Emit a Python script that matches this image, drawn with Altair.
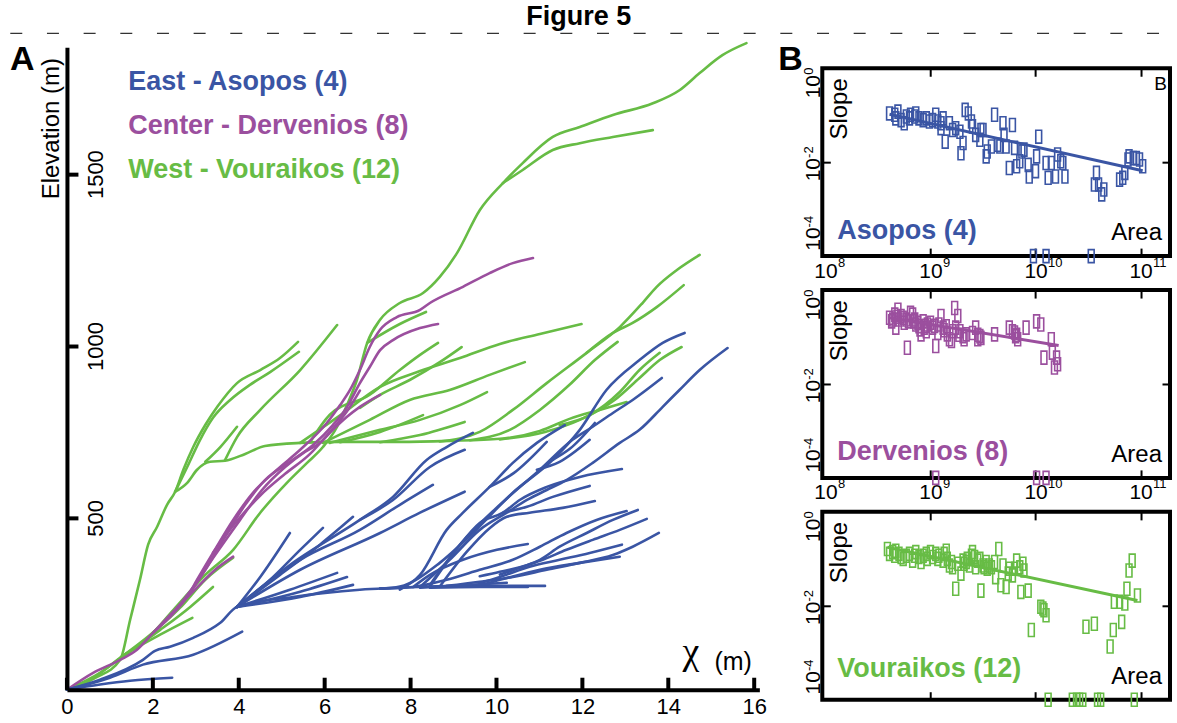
import altair as alt
import pandas as pd

FONT = "Liberation Sans"

# ---------------------------------------------------------------------------
# Panel A: chi - elevation river profiles, one list of (chi, elevation) per channel
# ---------------------------------------------------------------------------
asopos_profiles = [
    [(0, 0), (0.77, 15), (1.47, 26), (2.45, 35)],
    [(0, 0), (0.77, 29), (1.77, 87), (2.05, 113), (2.40, 125), (2.94, 151), (3.57, 195), (3.96, 241),
     (5.26, 270), (6.82, 291), (8.22, 299), (9.61, 302), (11.13, 302)],
    [(0, 0), (1.0, 35), (1.77, 73), (2.94, 102), (4.08, 169)],
    [(3.96, 241), (4.50, 328), (5.19, 456)],
    [(3.96, 241), (4.73, 320), (5.43, 407), (5.96, 471)],
    [(3.96, 241), (4.96, 334), (5.89, 422), (6.66, 503)],
    [(3.96, 241), (5.19, 363), (6.82, 494), (7.59, 561), (8.38, 669), (8.84, 706), (9.45, 747)],
    [(6.82, 494), (7.59, 552), (8.45, 648), (9.26, 698)],
    [(3.96, 241), (5.43, 378), (6.82, 465), (7.75, 538), (8.52, 596)],
    [(3.96, 241), (5.43, 349), (7.29, 456), (8.22, 515), (9.26, 576)],
    [(3.96, 241), (5.19, 291), (6.29, 340)],
    [(3.96, 241), (5.43, 285), (6.52, 328)],
    [(3.96, 241), (5.43, 270), (6.66, 305)],
    [(7.29, 294), (7.75, 300), (8.68, 369), (9.45, 456), (10.38, 573), (11.31, 669), (11.94, 756),
     (12.56, 872), (13.33, 959), (13.87, 1009), (14.38, 1038)],
    [(8.22, 299), (8.91, 378), (9.61, 465), (10.24, 515), (10.71, 552), (11.17, 581), (11.63, 610),
     (12.24, 660), (12.87, 718), (13.33, 756), (13.87, 823), (14.26, 872), (14.73, 930), (15.38, 994)],
    [(8.45, 305), (9.15, 422), (10.08, 538), (11.01, 640), (11.77, 727), (12.24, 765), (12.71, 805),
     (13.17, 843), (13.85, 907)],
    [(7.75, 291), (8.22, 334), (8.84, 465), (9.22, 515), (9.84, 590), (10.38, 660), (10.94, 718),
     (11.59, 770)],
    [(11.31, 669), (11.70, 700), (12.29, 776)],
    [(10.94, 640), (11.47, 663), (12.17, 727)],
    [(9.84, 590), (10.40, 630), (11.17, 721)],
    [(8.45, 300), (9.08, 410), (9.61, 485), (10.15, 515), (10.54, 552), (11.17, 590), (11.94, 619),
     (12.92, 642)],
    [(10.15, 515), (10.71, 532), (11.31, 561), (12.17, 593)],
    [(8.68, 300), (9.30, 400), (9.84, 470), (10.24, 503), (10.77, 515), (11.54, 529), (12.29, 549)],
    [(7.29, 294), (8.06, 299), (8.84, 320), (9.61, 349), (10.38, 378), (11.01, 416), (11.63, 456),
     (12.33, 494), (13.03, 520)],
    [(9.61, 330), (10.08, 343), (11.01, 378), (11.47, 416), (12.10, 456), (12.71, 494), (13.29, 523)],
    [(10.08, 335), (10.54, 355), (11.01, 375), (11.63, 407), (12.24, 436), (12.87, 465), (13.50, 497)],
    [(8.84, 302), (9.61, 314), (10.38, 328), (11.17, 349), (11.94, 369), (12.71, 392), (13.17, 416),
     (13.78, 456)],
    [(9.61, 310), (10.08, 328), (10.77, 358), (11.47, 378), (12.17, 398), (12.92, 422)],
    [(9.22, 302), (9.61, 305), (10.08, 320), (11.01, 349), (11.94, 369), (12.87, 387)],
    [(8.06, 299), (8.45, 334), (9.22, 378), (10.01, 407), (10.73, 424)],
    [(8.22, 297), (10.24, 311)],
    [(8.45, 297), (9.61, 299), (10.73, 299)],
]

dervenios_profiles = [
    [(0, 0), (0.61, 49), (1.24, 87), (1.63, 116), (2.01, 166), (2.40, 212), (2.80, 270), (3.03, 320),
     (3.40, 398), (3.87, 494), (4.33, 573), (4.89, 640), (5.43, 698), (6.05, 776), (6.36, 828),
     (6.59, 872), (6.82, 930), (7.05, 997), (7.29, 1047), (7.68, 1084), (8.22, 1105), (8.45, 1125),
     (9.22, 1172), (9.84, 1212), (10.38, 1241), (10.85, 1256)],
    [(2.80, 270), (3.22, 349), (3.68, 445), (4.15, 538), (4.61, 610), (5.19, 663), (5.73, 712),
     (6.19, 770), (6.52, 823), (6.82, 892), (7.05, 939), (7.29, 988), (7.59, 1017), (8.22, 1052),
     (8.64, 1064)],
    [(2.40, 212), (2.98, 305), (3.45, 392), (4.03, 494), (4.54, 581), (5.08, 648), (5.54, 692),
     (5.89, 718), (6.19, 756), (6.52, 794), (6.82, 823), (7.29, 858)],
    [(2.01, 166), (2.52, 233), (2.98, 291), (3.45, 349), (3.87, 387)],
    [(3.40, 398), (3.92, 485), (4.50, 565), (5.08, 628), (5.66, 686), (6.12, 750), (6.52, 810),
     (6.82, 870)],
]

vouraikos_profiles = [
    [(0, 0), (0.61, 35), (1.24, 93), (1.89, 151), (2.52, 238), (3.22, 334), (3.87, 407), (4.50, 515),
     (5.12, 602), (5.59, 660), (5.96, 706), (6.29, 765), (6.52, 828), (6.75, 901), (6.99, 1009),
     (7.29, 1076), (7.75, 1125), (8.29, 1154), (8.68, 1201), (9.08, 1270), (9.61, 1395),
     (10.15, 1474), (10.61, 1532), (11.31, 1608), (11.94, 1637), (12.71, 1672), (13.64, 1706),
     (14.26, 1744), (14.73, 1794), (15.26, 1846), (15.82, 1881)],
    [(10.15, 1474), (10.61, 1512), (11.31, 1570), (11.94, 1590), (12.71, 1608), (13.64, 1628)],
    [(0, 0), (0.67, 35), (1.24, 87), (1.47, 203), (1.70, 320), (1.89, 422), (2.10, 474), (2.33, 538),
     (2.52, 576), (2.71, 640), (2.94, 706), (3.22, 770), (3.50, 823), (3.96, 892), (4.50, 930),
     (4.96, 965), (5.38, 1012)],
    [(2.52, 576), (2.80, 648), (3.10, 727), (3.40, 791), (3.80, 843), (4.26, 887), (4.73, 924),
     (5.40, 983)],
    [(2.52, 576), (2.80, 602), (3.03, 640), (3.33, 663), (3.68, 666), (4.15, 686), (4.61, 709),
     (5.43, 718), (6.36, 721), (7.75, 721), (8.91, 724), (10.08, 730), (11.01, 753), (11.70, 788),
     (12.40, 814), (13.03, 837)],
    [(3.22, 663), (3.57, 706), (3.96, 765)],
    [(3.68, 668), (3.96, 735), (4.50, 814), (5.43, 930), (6.29, 1061)],
    [(0, 0), (0.77, 49), (1.36, 102), (2.17, 160), (2.92, 209)],
    [(1.36, 102), (2.17, 174), (2.87, 241), (3.40, 299)],
    [(1.24, 93), (1.94, 160), (2.63, 238), (3.22, 320), (3.87, 384)],
    [(5.43, 718), (6.36, 798), (7.29, 881), (8.22, 927), (9.15, 965), (10.08, 1006), (11.01, 1035),
     (11.98, 1064)],
    [(5.96, 718), (7.05, 785), (7.98, 843), (8.91, 872), (9.84, 916), (10.66, 953)],
    [(6.12, 718), (7.29, 756), (8.22, 785), (9.15, 828), (9.78, 866)],
    [(6.82, 820), (7.29, 858), (7.98, 901), (8.68, 953), (9.19, 997)],
    [(5.66, 720), (6.12, 800), (7.05, 858), (7.75, 930), (8.22, 974), (8.64, 1009)],
    [(6.36, 720), (7.29, 750), (8.29, 799)],
    [(7.29, 720), (8.22, 741), (9.26, 779)],
    [(6.99, 1009), (7.75, 1064), (8.36, 1099)],
    [(8.68, 722), (9.61, 750), (10.38, 814), (11.17, 892), (12.10, 980), (12.87, 1055), (13.40, 1125),
     (13.73, 1172), (14.20, 1221), (14.73, 1265)],
    [(12.10, 980), (12.71, 1038), (13.17, 1067), (13.73, 1113), (14.36, 1177)],
    [(9.38, 726), (10.31, 756), (11.01, 814), (11.70, 887), (12.29, 959), (12.82, 1012)],
    [(10.08, 728), (11.13, 750), (11.94, 785), (12.75, 843), (13.33, 907), (13.80, 959), (14.31, 997)],
    [(11.47, 770), (12.17, 799), (12.87, 866), (13.33, 930), (13.80, 980)],
]

chi_ticks = [0, 2, 4, 6, 8, 10, 12, 14, 16]
elev_ticks = [500, 1000, 1500]

basin_titles = ["East - Asopos (4)", "Center - Dervenios (8)", "West - Vouraikos (12)"]
basin_names = ["Asopos (4)", "Dervenios (8)", "Vouraikos (12)"]
basin_colors = ["#3a55a4", "#9b4f9e", "#67bc45"]

# ---------------------------------------------------------------------------
# Panel B: slope-area data, log10(area [m^2]) and log10(slope)
# ---------------------------------------------------------------------------
asopos_log_area = [
    8.61, 8.66, 8.69, 8.67, 8.72, 8.75, 8.77, 8.80, 8.81, 8.85, 8.86, 8.89, 8.93, 8.96, 8.99, 9.02,
    9.05, 9.07, 9.10, 9.12, 9.10, 9.14, 9.18, 9.21, 9.24, 9.28, 9.29, 9.31, 9.33, 9.36, 9.39, 9.40,
    9.43, 9.47, 9.48, 9.50, 9.53, 9.54, 9.58, 9.61, 9.64, 9.66, 9.69, 9.70, 9.72, 9.75, 9.78, 9.80,
    9.82, 9.85, 9.87, 9.89, 9.93, 9.94, 10.00, 10.01, 10.03, 10.10, 10.12, 10.15, 10.19, 10.21,
    10.24, 10.26, 10.28, 10.58, 10.56, 10.60, 10.63, 10.65, 10.80, 10.83, 10.85, 10.88, 10.89,
    10.93, 10.96, 10.99, 11.02, 9.98, 10.10, 10.53,
]
asopos_log_slope = [
    -0.91, -0.94, -0.87, -1.02, -1.06, -1.13, -0.98, -1.02, -0.94, -0.98, -0.91, -1.02, -1.06, -1.02,
    -1.09, -1.06, -0.94, -1.09, -1.13, -1.02, -1.24, -1.54, -1.13, -1.28, -1.24, -1.32, -1.80, -1.57,
    -0.83, -0.91, -1.09, -1.20, -1.39, -1.50, -1.28, -1.28, -1.87, -1.76, -1.65, -0.94, -1.61, -1.65,
    -1.13, -1.39, -1.65, -2.13, -1.17, -1.68, -2.09, -1.98, -1.76, -1.72, -2.06, -2.32, -2.20, -1.87,
    -1.43, -2.02, -2.35, -2.02, -2.32, -1.83, -1.98, -2.02, -2.32, -2.24, -2.50, -2.50, -2.72, -2.61,
    -2.39, -2.35, -2.24, -1.94, -1.87, -1.91, -1.91, -1.94, -2.09, -4.10, -4.10, -4.10,
]
asopos_fit_log_area = [8.61, 11.02]
asopos_fit_log_slope = [-0.93, -2.19]

dervenios_log_area = [
    8.61, 8.64, 8.66, 8.67, 8.69, 8.70, 8.72, 8.75, 8.77, 8.78, 8.81, 8.83, 8.85, 8.86, 8.88, 8.89,
    8.91, 8.93, 8.94, 8.96, 8.97, 9.00, 9.02, 9.05, 9.07, 9.08, 9.10, 9.12, 9.15, 9.16, 9.18, 9.20,
    9.21, 9.23, 9.24, 9.26, 9.28, 9.31, 9.32, 9.34, 9.40, 9.43, 9.45, 9.47, 9.48, 9.61, 9.75, 9.78,
    9.81, 9.83, 9.91, 10.01, 10.05, 10.08, 10.15, 10.16, 10.18, 10.20, 10.21, 8.63, 8.68, 8.74,
    8.79, 8.84, 8.90, 8.95, 9.04, 9.13, 9.27, 9.45, 9.80, 9.82, 9.05, 10.01, 10.10,
]
dervenios_log_slope = [
    -0.52, -0.56, -0.45, -0.74, -0.34, -0.56, -0.48, -0.63, -0.56, -1.19, -0.41, -0.45, -0.56, -0.67,
    -0.63, -0.71, -0.89, -0.60, -0.74, -0.82, -0.67, -0.63, -0.74, -1.15, -0.86, -0.67, -0.48, -0.74,
    -0.71, -0.89, -1.00, -1.04, -0.82, -0.30, -0.74, -0.48, -0.82, -0.93, -1.00, -0.89, -0.86, -0.74,
    -1.00, -0.93, -0.97, -0.89, -0.74, -0.82, -0.93, -1.00, -0.74, -0.60, -0.67, -1.41, -1.00, -1.30,
    -1.63, -1.41, -1.56, -0.60, -0.50, -0.52, -0.60, -0.60, -0.78, -0.70, -0.70, -0.80, -0.90, -0.90,
    -0.85, -0.90, -4.10, -4.10, -4.10,
]
dervenios_fit_log_area = [8.61, 10.22]
dervenios_fit_log_slope = [-0.52, -1.14]

vouraikos_log_area = [
    8.59, 8.61, 8.64, 8.66, 8.67, 8.70, 8.72, 8.74, 8.77, 8.80, 8.83, 8.85, 8.86, 8.89, 8.91, 8.93,
    8.96, 8.97, 9.00, 9.02, 9.05, 9.07, 9.08, 9.12, 9.13, 9.15, 9.16, 9.18, 9.20, 9.21, 9.24, 9.26,
    9.29, 9.31, 9.32, 9.34, 9.35, 9.37, 9.39, 9.40, 9.42, 9.43, 9.45, 9.47, 9.48, 9.50, 9.51, 9.53,
    9.54, 9.56, 9.58, 9.61, 9.62, 9.65, 9.67, 9.69, 9.72, 9.74, 9.75, 9.78, 9.80, 9.82, 9.85, 9.86,
    9.88, 9.89, 9.93, 9.96, 10.05, 10.07, 10.08, 10.10, 10.48, 10.56, 10.71, 10.74, 10.75, 10.80,
    10.82, 10.85, 10.87, 10.89, 10.92, 10.97, 10.12, 10.35, 10.39, 10.42, 10.45, 10.59, 10.62, 10.94,
]
vouraikos_log_slope = [
    -0.73, -0.84, -0.80, -0.88, -0.77, -0.84, -0.91, -0.95, -0.88, -0.84, -0.99, -0.88, -0.80, -0.91,
    -1.02, -0.88, -0.84, -0.95, -0.80, -0.91, -0.84, -0.95, -0.88, -0.99, -0.84, -0.77, -0.95, -1.10,
    -1.02, -1.14, -1.62, -1.06, -1.28, -0.99, -1.06, -1.02, -0.95, -1.10, -0.88, -0.80, -0.91, -1.14,
    -0.99, -0.95, -1.66, -1.10, -1.14, -1.02, -1.17, -1.10, -1.14, -1.02, -1.36, -0.73, -1.54, -1.10,
    -1.58, -1.28, -1.17, -1.32, -1.17, -0.99, -1.14, -1.69, -1.06, -1.21, -1.66, -2.54, -2.02, -2.06,
    -2.10, -2.21, -2.47, -2.40, -2.91, -2.54, -1.91, -1.91, -2.36, -1.95, -1.62, -1.21, -0.99, -1.77,
    -4.10, -4.10, -4.10, -4.10, -4.10, -4.10, -4.10, -4.10,
]
vouraikos_fit_log_area = [8.59, 10.97]
vouraikos_fit_log_slope = [-0.69, -1.88]

area_ticks = [1e8, 1e9, 1e10, 1e11]
slope_ticks = [1, 1e-2, 1e-4]

# ---------------------------------------------------------------------------
W_A, H_A = 693, 643          # panel A plot area
W_B, H_B = 348, 188          # each slope-area panel


def profile_frame(profiles, tag):
    rows = []
    for i, line in enumerate(profiles):
        for j, (c, e) in enumerate(line):
            rows.append({"line": f"{tag}-{i}", "step": j, "chi": c, "elev": e})
    return pd.DataFrame(rows)


one_row = alt.Data(values=[{}])

x_a = alt.Scale(domain=[0, 16.12], nice=False, zero=False)
y_a = alt.Scale(domain=[0, 1869], nice=False, zero=False)

axis_chi = alt.Axis(orient="bottom", values=chi_ticks, format="d", ticks=False, tickSize=0,
                    domainWidth=4, domainColor="black", labelFontSize=22,
                    labelColor="black", labelFont=FONT, labelPadding=7, labelFlush=False,
                    grid=False, title=None, zindex=1)
axis_elev = alt.Axis(orient="right", offset=-W_A, values=elev_ticks, format="d", tickSize=11,
                     tickWidth=4, tickColor="black", domainWidth=4, domainColor="black",
                     labelAngle=270, labelAlign="center", labelBaseline="top",
                     labelPadding=8, labelFontSize=22, labelColor="black", labelFont=FONT,
                     labelFlush=False, grid=False, title=None, zindex=1)


def profile_layer(profiles, tag, color, x_axis, y_axis):
    return alt.Chart(profile_frame(profiles, tag)).mark_line(
        color=color, strokeWidth=2.6, interpolate="monotone", strokeCap="round", strokeJoin="round"
    ).encode(
        x=alt.X("chi:Q", scale=x_a, axis=x_axis),
        y=alt.Y("elev:Q", scale=y_a, axis=y_axis),
        detail="line:N",
        order="step:Q",
    )


def label(text, x, y, size, color="black", weight="normal", align="left", angle=0, font=FONT,
          baseline="alphabetic"):
    mark = dict(fontSize=size, color=color, fontWeight=weight, align=align, baseline=baseline,
                font=font)
    if angle:
        mark["angle"] = angle
    return alt.Chart(one_row).mark_text(**mark).encode(
        x=alt.value(x), y=alt.value(y), text=alt.value(text))


# white page background, also fixes the page extent (1177 x 723)
page = alt.Chart(one_row).mark_rect(color="white").encode(
    x=alt.value(-66.7), x2=alt.value(1110.3), y=alt.value(-47), y2=alt.value(676))
header_rule = alt.Chart(one_row).mark_rule(color="#333333", strokeWidth=1.3, strokeDash=[12, 24.7]).encode(
    x=alt.value(-56.7), x2=alt.value(1110.3), y=alt.value(-14))

# inward-pointing tick marks along the chi axis
chi_tick_marks = alt.Chart(pd.DataFrame({"chi": chi_ticks})).mark_rule(
    color="black", strokeWidth=4).encode(
    x=alt.X("chi:Q", scale=x_a, axis=None), y=alt.value(H_A), y2=alt.value(H_A - 12))

panel_a = alt.layer(
    page,
    header_rule,
    profile_layer(vouraikos_profiles, "v", basin_colors[2], axis_chi, axis_elev),
    profile_layer(dervenios_profiles, "d", basin_colors[1], None, None),
    profile_layer(asopos_profiles, "a", basin_colors[0], None, None),
    chi_tick_marks,
    label("Figure 5", 512.3, -22, 27, weight="bold", align="center"),
    label("A", -57, 23, 34, weight="bold"),
    label(basin_titles[0], 61.3, 43, 27, color=basin_colors[0], weight="bold"),
    label(basin_titles[1], 61.3, 87, 27, color=basin_colors[1], weight="bold"),
    label(basin_titles[2], 61.3, 131, 27, color=basin_colors[2], weight="bold"),
    label("Elevation (m)", -8, 81.5, 24, align="center", angle=270),
    label("χ", 616, 617, 38, font="Liberation Serif"),
    label("(m)", 648, 623, 25),
).resolve_axis(x="independent", y="independent").properties(width=W_A, height=H_A)

# ---------------------------------------------------------------------------
# slope-area panels: "10" base labels and small exponent labels are two axes
X_EXP = "datum.value > 5e10 ? '11' : datum.value > 5e9 ? '10' : datum.value > 5e8 ? '9' : '8'"
Y_EXP = "datum.value > 0.5 ? '0' : datum.value > 5e-3 ? '-2' : '-4'"
RECT = "M-0.45,-1L0.45,-1L0.45,1L-0.45,1Z"


def by_slope(top, middle, bottom):
    return {"condition": [{"test": "datum.value > 0.5", "value": top},
                          {"test": "datum.value < 0.001", "value": bottom}],
            "value": middle}


def slope_area_panel(log_area, log_slope, fit_area, fit_slope, color, name, name_y, x_labels,
                     extra=()):
    pts = pd.DataFrame({"area": [10 ** a for a in log_area], "slope": [10 ** s for s in log_slope]})
    fit = pd.DataFrame({"area": [10 ** a for a in fit_area], "slope": [10 ** s for s in fit_slope]})
    xs = alt.Scale(type="log", domain=[10 ** 7.97, 10 ** 11.28], nice=False)
    ys = alt.Scale(type="log", domain=[10 ** -4.1, 10 ** 0.1], nice=False)

    common = dict(grid=False, domain=False, title=None, labelFont=FONT, labelColor="black",
                  labelFlush=False, labelOverlap=False)
    ax_x_base = alt.Axis(orient="bottom", values=area_ticks, labelExpr="'10'", labels=x_labels,
                         ticks=False, tickSize=0, labelFontSize=21, labelAlign="center",
                         labelPadding=4, **common)
    ax_x_exp = alt.Axis(orient="bottom", values=area_ticks, labelExpr=X_EXP, labels=x_labels,
                        ticks=False, tickSize=0, labelFontSize=13, labelAlign="left",
                        labelOffset=12, labelPadding=0, **common)
    ax_y_base = alt.Axis(orient="left", values=slope_ticks, labelExpr="'10'", ticks=False,
                         tickSize=0, labelFontSize=21, labelAngle=270, labelAlign="center",
                         labelBaseline="alphabetic", labelPadding=3,
                         labelOffset=by_slope(13.5, 7, -13), **common)
    ax_y_exp = alt.Axis(orient="left", values=slope_ticks, labelExpr=Y_EXP, ticks=False,
                        tickSize=0, labelFontSize=13, labelAngle=270, labelAlign="center",
                        labelBaseline="alphabetic", labelPadding=10,
                        labelOffset=by_slope(-2, -10.5, -30.5), **common)
    tick_style = dict(tickSize=8, tickWidth=2, tickColor="black", labels=False, domain=False,
                      grid=False, title=None)
    ax_x_low = alt.Axis(orient="top", offset=-H_B, values=area_ticks[1:], **tick_style)
    ax_x_high = alt.Axis(orient="bottom", offset=-H_B, values=area_ticks[1:], **tick_style)
    ax_y_left = alt.Axis(orient="right", offset=-W_B, values=[1e-2], **tick_style)
    ax_y_right = alt.Axis(orient="left", offset=-W_B, values=[1e-2], **tick_style)

    points = alt.Chart(pts).mark_point(shape=RECT, size=169, filled=False, strokeWidth=1.6,
                                       color=color, opacity=1).encode(
        x=alt.X("area:Q", scale=xs, axis=ax_x_base),
        y=alt.Y("slope:Q", scale=ys, axis=ax_y_base),
    )
    fit_line = alt.Chart(fit).mark_line(color=color, strokeWidth=3).encode(
        x=alt.X("area:Q", scale=xs, axis=ax_x_low),
        y=alt.Y("slope:Q", scale=ys, axis=ax_y_left),
    )
    tick_carrier = alt.Chart(fit).mark_point(opacity=0).encode(
        x=alt.X("area:Q", scale=xs, axis=ax_x_high),
        y=alt.Y("slope:Q", scale=ys, axis=ax_y_right),
    )
    exp_carrier = alt.Chart(fit).mark_point(opacity=0).encode(
        x=alt.X("area:Q", scale=xs, axis=ax_x_exp),
        y=alt.Y("slope:Q", scale=ys, axis=ax_y_exp),
    )
    layers = [points, fit_line, tick_carrier, exp_carrier,
              label("Slope", 25, 10, 24, align="right", angle=270),
              label("Area", 340, 172, 24, align="right"),
              label(name, 15, name_y, 27, color=color, weight="bold")]
    layers.extend(extra)
    return alt.layer(*layers).resolve_axis(x="independent", y="independent").properties(
        width=W_B, height=H_B, view=alt.ViewBackground(stroke="black", strokeWidth=4))


b1 = slope_area_panel(asopos_log_area, asopos_log_slope, asopos_fit_log_area, asopos_fit_log_slope,
                      basin_colors[0], basin_names[0], 171, True,
                      extra=[label("B", 345, 22, 19, align="right"),
                             label("B", -44, 2, 34, weight="bold")])
b2 = slope_area_panel(dervenios_log_area, dervenios_log_slope, dervenios_fit_log_area,
                      dervenios_fit_log_slope, basin_colors[1], basin_names[1], 170, True)
b3 = slope_area_panel(vouraikos_log_area, vouraikos_log_slope, vouraikos_fit_log_area,
                      vouraikos_fit_log_slope, basin_colors[2], basin_names[2], 165, False)

spacer = alt.Chart(one_row).mark_point(opacity=0).encode(
    x=alt.value(0), y=alt.value(0)).properties(width=W_B, height=1)

column_b = alt.vconcat(spacer, alt.vconcat(b1, b2, b3, spacing=34, bounds="flush"),
                       spacing=20, bounds="flush")

chart = alt.hconcat(panel_a, column_b, spacing=63, bounds="flush").properties(
    padding=0
).configure(font=FONT).configure_view(strokeWidth=0)

chart.save("out.html", embed_options={"renderer": "svg", "actions": False})
